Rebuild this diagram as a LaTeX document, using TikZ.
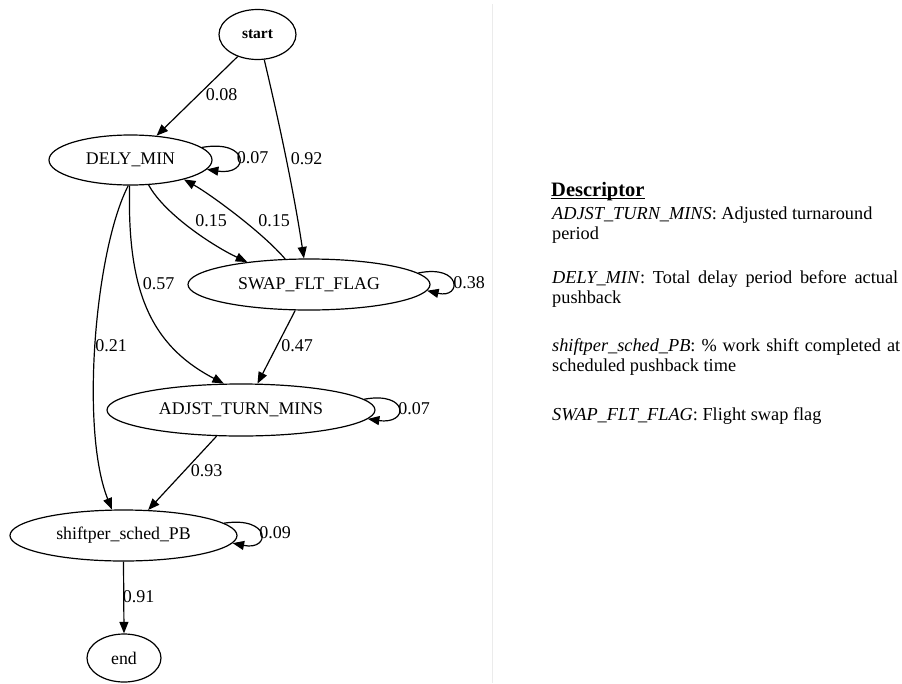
\documentclass[tikz,border=0pt]{standalone}
\usepackage{fontspec}
\setmainfont{Liberation Serif}
\usetikzlibrary{shapes.geometric,arrows.meta,calc}

\begin{document}
\begin{tikzpicture}[x=1pt,y=-1pt,
  stnode/.style={draw, ellipse, line width=1.2pt, inner sep=1pt,
                 font=\fontsize{17.8}{20}\selectfont},
  prob/.style={inner sep=0pt, font=\fontsize{18}{20}\selectfont},
  trans/.style={draw, line width=1.2pt, -{Triangle[length=11.5pt,width=9pt]}},
  desc/.style={anchor=base west, inner sep=0pt, align=left,
               font=\fontsize{18.3}{19.7}\selectfont},
]
\useasboundingbox (0,0) rectangle (902,683);

% separator between graph and legend
\draw[black!8, line width=1pt] (492,4) -- (492,683);

% states
\node[stnode, minimum width=77pt, minimum height=50pt,
      font=\fontsize{15.5}{18}\selectfont\bfseries] (S) at (257.5,34.5) {start};
\node[stnode, minimum width=163pt, minimum height=50pt] (D) at (130.5,160) {DELY\_MIN};
\node[stnode, minimum width=242pt, minimum height=51pt] (W) at (309,284.5) {SWAP\_FLT\_FLAG};
\node[stnode, minimum width=268pt, minimum height=52pt] (A) at (241,410) {ADJST\_TURN\_MINS};
\node[stnode, minimum width=227pt, minimum height=51pt] (P) at (123.5,535.5) {shiftper\_sched\_PB};
\node[stnode, minimum width=74pt, minimum height=48pt] (E) at (124,658) {end};

% transitions
\draw[trans] (S.-132.5) -- (D.43.3);
\draw[trans] (S.-75.7) .. controls (280,126) and (294,193) .. (W.101);
\draw[trans] (D.10.6) .. controls (250,139) and (250,176) .. (D.-7.7);
\draw[trans] (D.-54.4) .. controls (165,215) and (215,247) .. (W.160.5);
\draw[trans] (W.133.8) .. controls (262,232) and (210,194) .. (D.-20.6);
\draw[trans] (W.6.1) .. controls (462,264) and (462,299) .. (W.-3.9);
\draw[trans] (D.-92.5) .. controls (127,290) and (150,345) .. (A.123.2);
\draw[trans] (D.-95) .. controls (95,250) and (80,430) .. (P.114.4);
\draw[trans] (W.-118.9) -- (A.58.2);
\draw[trans] (A.5.3) .. controls (409,391) and (409,425) .. (A.-4);
\draw[trans] (A.-133.2) -- (P.46.7);
\draw[trans] (P.7) .. controls (271,516) and (271,551) .. (P.-4.7);
\draw[trans] (P.-90) -- (E.90);

% transition probabilities
\node[prob] (p1)  at (221.5,95)   {0.08};
\node[prob] (p2)  at (306.5,158.5) {0.92};
\node[prob] (p3)  at (252.5,158)  {0.07};
\node[prob] (p4)  at (211,221)    {0.15};
\node[prob] (p5)  at (274,221)    {0.15};
\node[prob] (p6)  at (469,283)    {0.38};
\node[prob] (p7)  at (158.5,283.5) {0.57};
\node[prob] (p8)  at (111,346)    {0.21};
\node[prob] (p9)  at (297,346)    {0.47};
\node[prob] (p10) at (414,409)    {0.07};
\node[prob] (p11) at (206.5,471)  {0.93};
\node[prob] (p12) at (275,533)    {0.09};
\node[prob] (p13) at (138.5,597)  {0.91};

% legend (two-line entries are placed by the baseline of their last line)
\node[desc, font=\fontsize{20.5}{22}\selectfont\bfseries] (hd) at (551,196) {Descriptor};
\draw[line width=1.3pt] ($(hd.base west)+(0,2.5)$) -- ($(hd.base east)+(0,2.5)$);
\node[desc] (d1) at (552,239.5)
  {\textit{ADJST\_TURN\_MINS}: Adjusted turnaround\\period};
\node[desc] (d2) at (552,303)
  {\makebox[346pt][s]{\textit{DELY\_MIN}: Total delay period before actual}\\pushback};
\node[desc] (d3) at (552,371)
  {\makebox[348pt][s]{\textit{shiftper\_sched\_PB}: \% work shift completed at}\\scheduled pushback time};
\node[desc] (d4) at (552,420)
  {\textit{SWAP\_FLT\_FLAG}: Flight swap flag};
\end{tikzpicture}
\end{document}
